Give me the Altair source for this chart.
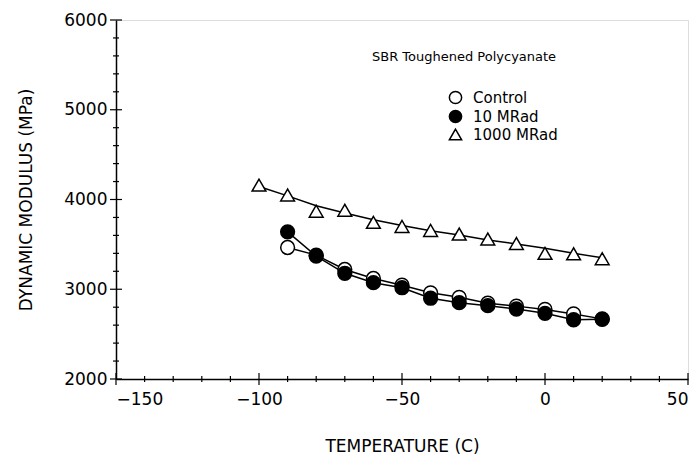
import altair as alt
import pandas as pd

temps = [-100, -90, -80, -70, -60, -50, -40, -30, -20, -10, 0, 10, 20]
tri_vals = [4160, 4050, 3870, 3880, 3745, 3700, 3655, 3615, 3560, 3510, 3400, 3395, 3340]
tri_fit = [4145, 4040, 3930, 3850, 3775, 3710, 3652, 3604, 3550, 3504, 3456, 3400, 3350]

circ_temps = [-90, -80, -70, -60, -50, -40, -30, -20, -10, 0, 10, 20]
control_vals = [3465, 3380, 3220, 3120, 3045, 2960, 2910, 2845, 2812, 2775, 2725, 2670]
mrad10_vals = [3640, 3370, 3178, 3073, 3017, 2900, 2850, 2817, 2780, 2732, 2660, 2665]

series_names = ["Control", "10 MRad", "1000 MRad"]
x_ticks = [-150, -140, -130, -120, -110, -100, -90, -80, -70, -60, -50, -40, -30, -20, -10, 0, 10, 20, 30, 40, 50]
x_major = [-150, -100, -50, 0, 50]
y_ticks = [2000, 2200, 2400, 2600, 2800, 3000, 3200, 3400, 3600, 3800, 4000,
           4200, 4400, 4600, 4800, 5000, 5200, 5400, 5600, 5800, 6000]
y_major = [2000, 3000, 4000, 5000, 6000]

W, H = 572, 359
FONT = "DejaVu Sans"

pts = pd.DataFrame(
    [{"T": t, "E": v, "series": "Control"} for t, v in zip(circ_temps, control_vals)]
    + [{"T": t, "E": v, "series": "10 MRad"} for t, v in zip(circ_temps, mrad10_vals)]
    + [{"T": t, "E": v, "series": "1000 MRad"} for t, v in zip(temps, tri_vals)]
)
circ_lines = pts[pts.series != "1000 MRad"]
fit_df = pd.DataFrame({"T": temps, "E": tri_fit})

xs = alt.Scale(domain=[-150, 50], nice=False, zero=False)
ys = alt.Scale(domain=[2000, 6000], nice=False, zero=False)

x_axis = alt.Axis(values=x_major, ticks=False, grid=False, domainColor="black", domainWidth=1.5,
                  labelFontSize=17, labelFont=FONT, labelColor="black", labelPadding=12,
                  title="TEMPERATURE (C)", titleFont=FONT, titleFontSize=17, titleFontWeight="normal",
                  titleColor="black", titlePadding=31)
y_axis = alt.Axis(values=y_major, format="d", ticks=False, grid=False, domainColor="black", domainWidth=1.5,
                  labelFontSize=17, labelFont=FONT, labelColor="black", labelPadding=9,
                  title="DYNAMIC MODULUS (MPa)", titleFont=FONT, titleFontSize=17,
                  titleFontWeight="normal", titleColor="black", titlePadding=28)

X = alt.X("T:Q", scale=xs, axis=x_axis)
Y = alt.Y("E:Q", scale=ys, axis=y_axis)

fit_line = alt.Chart(fit_df).mark_line(color="black", strokeWidth=1.5).encode(x=X, y=Y)

circ_line = alt.Chart(circ_lines).mark_line(color="black", strokeWidth=1.5).encode(
    x=X, y=Y, detail="series:N"
)

leg = alt.Legend(title=None, orient="none", legendX=332, legendY=70, labelFont=FONT,
                 labelFontSize=15, labelColor="black", symbolStrokeColor="black",
                 symbolStrokeWidth=1.5, symbolSize=150, rowPadding=0, labelOffset=10)

points = alt.Chart(pts).mark_point(filled=True, strokeWidth=1.5, size=190, opacity=1).encode(
    x=X, y=Y,
    shape=alt.Shape("series:N", scale=alt.Scale(domain=series_names, range=["circle", "circle", "triangle-up"]), legend=leg),
    fill=alt.Fill("series:N", scale=alt.Scale(domain=series_names, range=["white", "black", "white"]), legend=leg),
    stroke=alt.Stroke("series:N", scale=alt.Scale(domain=series_names, range=["black", "black", "black"]), legend=leg),
    order=alt.Order("order:Q"),
).transform_calculate(order="datum.series == 'Control' ? 0 : 1")

xt = pd.DataFrame({"T": x_ticks, "major": [t in x_major for t in x_ticks]})
yt = pd.DataFrame({"E": y_ticks, "major": [t in y_major for t in y_ticks]})

xtick_minor = alt.Chart(xt[~xt.major]).mark_rule(color="black", strokeWidth=1.2).encode(
    x=alt.X("T:Q", scale=xs), y=alt.value(H - 3), y2=alt.value(H + 3))
xtick_major = alt.Chart(xt[xt.major]).mark_rule(color="black", strokeWidth=1.2).encode(
    x=alt.X("T:Q", scale=xs), y=alt.value(H - 6), y2=alt.value(H + 6))
ytick_minor = alt.Chart(yt[~yt.major]).mark_rule(color="black", strokeWidth=1.2).encode(
    y=alt.Y("E:Q", scale=ys), x=alt.value(-3), x2=alt.value(3))
ytick_major = alt.Chart(yt[yt.major]).mark_rule(color="black", strokeWidth=1.2).encode(
    y=alt.Y("E:Q", scale=ys), x=alt.value(-6), x2=alt.value(6))

note = alt.Chart(pd.DataFrame({"t": ["SBR Toughened  Polycyanate"]})).mark_text(
    align="left", baseline="middle", font=FONT, fontSize=13, color="black"
).encode(text="t:N", x=alt.value(256), y=alt.value(37))

chart = alt.layer(
    fit_line, circ_line, points, xtick_minor, xtick_major, ytick_minor, ytick_major, note
).properties(
    width=W, height=H,
    padding={"left": 108, "top": 12, "right": 4, "bottom": 75},
    autosize=alt.AutoSizeParams(type="none"),
).configure_view(stroke="black", strokeWidth=1.5).configure(background="white")

chart.save("out.html", embed_options={"renderer": "svg", "actions": False})
